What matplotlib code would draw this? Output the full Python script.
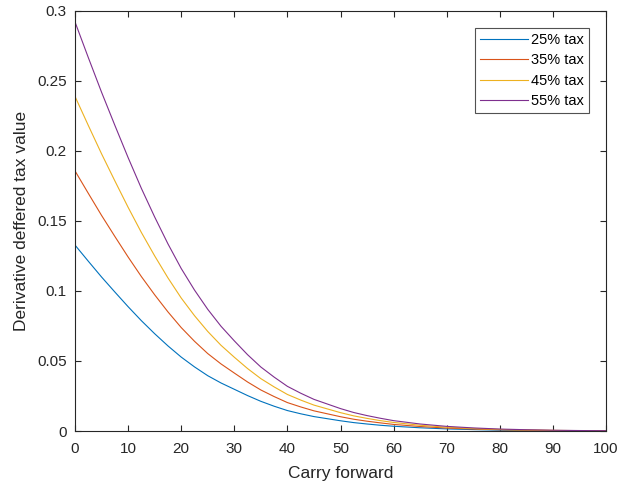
import matplotlib
matplotlib.use("Agg")
import matplotlib.pyplot as plt
from matplotlib.ticker import FixedLocator, FixedFormatter

plt.rcParams['font.family'] = ['Liberation Sans', 'DejaVu Sans']

carry = [0, 2.5, 5, 7.5, 10, 12.5, 15, 17.5, 20, 22.5, 25, 27.5, 30, 32.5, 35, 37.5, 40,
         42.5, 45, 47.5, 50, 52.5, 55, 57.5, 60, 65, 70, 75, 80, 85, 90, 95, 100]

tax25 = [0.1328, 0.1213, 0.1100, 0.0993, 0.0888, 0.0788, 0.0695, 0.0608, 0.0528, 0.0458, 0.0395,
         0.0343, 0.0298, 0.0253, 0.0212, 0.0177, 0.0146, 0.0123, 0.0103, 0.0088, 0.0073, 0.0060,
         0.0050, 0.0041, 0.0034, 0.0023, 0.0015, 0.0010, 0.0006, 0.0004, 0.00025, 0.00015, 0.0001]
tax35 = [0.1858, 0.1698, 0.1540, 0.1390, 0.1243, 0.1103, 0.0973, 0.0851, 0.0739, 0.0641, 0.0553,
         0.0479, 0.0414, 0.0350, 0.0293, 0.0246, 0.0203, 0.0172, 0.0144, 0.0123, 0.0102, 0.0084,
         0.0070, 0.0058, 0.0047, 0.0032, 0.0021, 0.0014, 0.0009, 0.0006, 0.00035, 0.0002, 0.00014]
tax45 = [0.2390, 0.2183, 0.1980, 0.1787, 0.1598, 0.1418, 0.1251, 0.1094, 0.0950, 0.0824, 0.0711,
         0.0612, 0.0527, 0.0446, 0.0374, 0.0315, 0.0261, 0.0221, 0.0185, 0.0158, 0.0131, 0.0108,
         0.0090, 0.0074, 0.0061, 0.0041, 0.0027, 0.0018, 0.0011, 0.0007, 0.00045, 0.00027, 0.00018]
tax55 = [0.2922, 0.2668, 0.2420, 0.2184, 0.1953, 0.1733, 0.1529, 0.1337, 0.1161, 0.1007, 0.0869,
         0.0748, 0.0644, 0.0545, 0.0457, 0.0385, 0.0319, 0.0270, 0.0226, 0.0193, 0.0160, 0.0132,
         0.0110, 0.0091, 0.0074, 0.0050, 0.0033, 0.0022, 0.0014, 0.0009, 0.00055, 0.00033, 0.00022]

series_labels = ['25% tax', '35% tax', '45% tax', '55% tax']
colors = ['#0072BD', '#D95319', '#EDB120', '#7E2F8E']

xticks = [0, 10, 20, 30, 40, 50, 60, 70, 80, 90, 100]
yticks = [0, 0.05, 0.1, 0.15, 0.2, 0.25, 0.3]
ytick_labels = ['0', '0.05', '0.1', '0.15', '0.2', '0.25', '0.3']

fig = plt.figure(figsize=(6.26, 4.90), dpi=100)
ax = fig.add_axes([75/626, 59/490, 531/626, 420/490])

for ys, lab, c in zip([tax25, tax35, tax45, tax55], series_labels, colors):
    ax.plot(carry, ys, color=c, linewidth=0.8, label=lab)

ax.set_xlim(0, 100)
ax.set_ylim(0, 0.3)
ax.xaxis.set_major_locator(FixedLocator(xticks))
ax.xaxis.set_major_formatter(FixedFormatter([str(v) for v in xticks]))
ax.yaxis.set_major_locator(FixedLocator(yticks))
ax.yaxis.set_major_formatter(FixedFormatter(ytick_labels))

axcol = '#262626'
for s in ax.spines.values():
    s.set_color(axcol)
    s.set_linewidth(0.8)
ax.tick_params(direction='in', length=4, width=0.8, colors=axcol, labelsize=11,
               top=True, right=True)
ax.tick_params(axis='x', pad=8)
ax.tick_params(axis='y', pad=6)
ax.set_xlabel('Carry forward', fontsize=12.5, color=axcol, labelpad=7)
ax.set_ylabel('Derivative deffered tax value', fontsize=12.5, color=axcol, labelpad=6)

leg = ax.legend(loc='upper right', bbox_to_anchor=(0.968, 0.960), borderaxespad=0,
                fontsize=10.5, frameon=True, fancybox=False, handlelength=3.3,
                handletextpad=0.2, labelspacing=0.44, borderpad=0.35)
leg.get_frame().set_edgecolor(axcol)
leg.get_frame().set_linewidth(0.8)

fig.savefig('out.png', dpi=100)
